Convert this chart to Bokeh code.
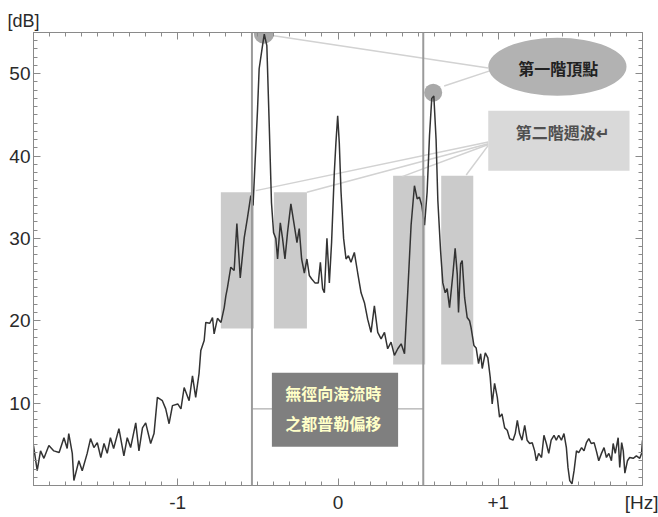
from bokeh.plotting import figure
from bokeh.models import Range1d, FixedTicker, LinearAxis, Span
from bokeh.core.properties import value
from bokeh.embed import file_html
from bokeh.resources import INLINE

# Doppler spectrum (frequency [Hz], power [dB])
freq = [-1.900, -1.877, -1.856, -1.835, -1.804, -1.773, -1.740, -1.710, -1.690, -1.680,
        -1.658, -1.648, -1.617, -1.596, -1.565, -1.544, -1.523, -1.502, -1.480, -1.460,
        -1.440, -1.420, -1.400, -1.367, -1.336, -1.315, -1.294, -1.262, -1.242, -1.220,
        -1.200, -1.169, -1.148, -1.127, -1.096, -1.075, -1.054, -1.033, -1.000, -0.980,
        -0.960, -0.929, -0.908, -0.888, -0.867, -0.856, -0.835, -0.825, -0.800, -0.783,
        -0.773, -0.752, -0.730, -0.710, -0.700, -0.690, -0.669, -0.648, -0.631, -0.610,
        -0.585, -0.565, -0.544, -0.530, -0.502, -0.492, -0.471, -0.460, -0.444, -0.429,
        -0.415, -0.402, -0.388, -0.377, -0.360, -0.346, -0.331, -0.315, -0.294, -0.273,
        -0.256, -0.242, -0.227, -0.210, -0.194, -0.179, -0.165, -0.144, -0.123, -0.110,
        -0.096, -0.085, -0.069, -0.054, -0.040, -0.023, -0.013, -0.002, 0.008, 0.019,
        0.035, 0.050, 0.065, 0.081, 0.102, 0.123, 0.144, 0.165, 0.185, 0.206,
        0.227, 0.248, 0.269, 0.290, 0.310, 0.331, 0.352, 0.373, 0.394, 0.415,
        0.435, 0.456, 0.477, 0.494, 0.508, 0.523, 0.540, 0.556, 0.571, 0.585,
        0.598, 0.612, 0.623, 0.640, 0.654, 0.669, 0.681, 0.696, 0.717, 0.731,
        0.744, 0.752, 0.765, 0.775, 0.790, 0.806, 0.821, 0.830, 0.848, 0.862,
        0.877, 0.890, 0.900, 0.919, 0.935, 0.950, 0.962, 0.977, 0.994, 1.008,
        1.023, 1.040, 1.056, 1.071, 1.092, 1.106, 1.119, 1.133, 1.148, 1.165,
        1.180, 1.196, 1.212, 1.227, 1.238, 1.252, 1.270, 1.285, 1.300, 1.315,
        1.330, 1.348, 1.362, 1.377, 1.394, 1.410, 1.425, 1.435, 1.446, 1.460,
        1.473, 1.488, 1.502, 1.520, 1.535, 1.550, 1.565, 1.580, 1.598, 1.612,
        1.627, 1.644, 1.660, 1.675, 1.690, 1.706, 1.717, 1.730, 1.748, 1.758,
        1.770, 1.780, 1.790, 1.806, 1.820, 1.842, 1.862, 1.883, 1.894, 1.900]
power = [4.85, 1.8, 4.2, 3.3, 4.85, 4.2, 4.0, 5.8, 4.5, 6.3,
         3.9, 0.6, 3.0, 1.8, 3.9, 5.7, 4.6, 5.2, 3.4, 5.1,
         3.9, 5.8, 4.5, 6.9, 3.6, 5.8, 4.6, 7.6, 4.2, 7.0,
         7.6, 5.1, 6.3, 10.7, 10.3, 9.3, 7.5, 9.7, 9.9, 9.3,
         11.9, 10.3, 13.3, 10.7, 13.6, 16.4, 17.6, 19.8, 19.7, 20.4,
         18.4, 20.3, 19.8, 21.6, 23.0, 24.0, 26.5, 26.1, 31.8, 25.2,
         30.1, 32.5, 35.2, 34.0, 45.7, 50.6, 53.4, 54.8, 53.4, 43.7,
         34.3, 30.7, 30.0, 27.5, 31.9, 30.0, 27.5, 30.7, 34.2, 31.6,
         29.5, 31.2, 27.5, 25.8, 27.5, 25.5, 25.1, 24.6, 24.6, 27.1,
         23.9, 23.4, 30.0, 24.6, 29.5, 38.0, 41.6, 44.9, 41.6, 35.6,
         30.0, 27.5, 27.9, 27.1, 28.3, 25.8, 23.4, 22.2, 20.2, 18.6,
         21.8, 18.6, 17.8, 18.6, 16.6, 17.4, 15.8, 16.6, 17.2, 16.0,
         23.4, 31.6, 36.4, 34.8, 35.0, 34.0, 31.6, 35.6, 42.5, 47.0,
         47.3, 42.0, 34.6, 28.5, 24.6, 23.4, 23.9, 21.6, 25.7, 28.8,
         25.7, 21.0, 26.9, 27.3, 22.8, 20.4, 20.0, 19.2, 17.0, 16.7,
         14.8, 16.0, 14.2, 16.1, 15.5, 13.1, 9.9, 12.4, 10.7, 8.3,
         8.7, 7.0, 6.7, 5.7, 5.5, 6.3, 7.9, 6.3, 5.5, 7.3,
         5.5, 5.1, 5.2, 4.2, 3.0, 3.9, 3.4, 6.1, 5.1, 3.9,
         5.5, 6.1, 5.5, 6.1, 5.5, 6.3, 4.6, 2.2, 0.6, 0.2,
         1.8, 4.2, 4.0, 4.6, 4.2, 5.2, 5.7, 5.1, 5.2, 4.2,
         3.0, 3.9, 4.6, 3.4, 3.9, 3.0, 5.1, 3.9, 5.8, 2.2,
         5.2, 4.2, 1.5, 3.0, 3.4, 3.3, 3.6, 3.3, 3.9, 5.5]

# Bragg lines and Doppler-shift marker
bragg_lines = [-0.537, 0.532]
shift_level = 9.3

# first-order peaks (highlight circles)
peak_x = [-0.4625, 0.594]
peak_y = [54.85, 47.7]
peak_size = [20, 18]

# second-order regions
so_left = [-0.731, -0.400, 0.344, 0.644]
so_right = [-0.525, -0.194, 0.544, 0.844]
so_bottom = [19.05, 19.05, 14.7, 14.7]
so_top = [35.6, 35.6, 37.6, 37.6]

x_ticks = [-1, 0, 1, 1.9]
x_labels = {-1: "-1", 0: "0", 1: "+1", 1.9: "[Hz]"}
y_ticks = [10, 20, 30, 40, 50]
y_unit = "[dB]"

label_first = "第一階頂點"
label_second = "第二階週波↵"
label_shift = ["無徑向海流時", "之都普勒偏移"]

p = figure(width=658, height=515, output_backend="svg", toolbar_location=None,
           x_range=Range1d(-1.9, 1.9), y_range=Range1d(0, 55),
           min_border_left=33, min_border_right=16, min_border_top=32, min_border_bottom=30)
p.xgrid.visible = False
p.ygrid.visible = False
p.outline_line_color = "#8a8a8a"
p.outline_line_width = 1
p.background_fill_color = "white"

p.title.text = y_unit
p.title.align = "left"
p.title.offset = -26
p.title.standoff = 4
p.title.text_font = "Liberation Sans"
p.title.text_font_style = "normal"
p.title.text_font_size = "18px"
p.title.text_color = "#2a2a2a"

axis_col = "#8a8a8a"
minor_x = [round(-1.9 + 0.1 * i, 2) for i in range(39)]
minor_y = list(range(0, 56))

def style_axis(ax, show_labels):
    ax.axis_line_color = axis_col
    ax.major_tick_line_color = axis_col
    ax.minor_tick_line_color = axis_col
    ax.major_tick_in = 7
    ax.major_tick_out = 0
    ax.minor_tick_in = 4
    ax.minor_tick_out = 0
    if show_labels:
        ax.major_label_text_font = "Liberation Sans"
        ax.major_label_text_font_size = "19px"
        ax.major_label_text_color = "#2a2a2a"
    else:
        ax.major_label_text_font_size = "1px"
        ax.major_label_text_alpha = 0
        ax.major_label_standoff = 0

xa = p.xaxis[0]
xa.ticker = FixedTicker(ticks=x_ticks, minor_ticks=minor_x)
xa.major_label_overrides = x_labels
xa.major_label_standoff = 6
style_axis(xa, True)

ya = p.yaxis[0]
ya.ticker = FixedTicker(ticks=y_ticks, minor_ticks=minor_y)
ya.major_label_standoff = 3
style_axis(ya, True)

top_ax = LinearAxis(ticker=FixedTicker(ticks=[-1, 0, 1], minor_ticks=minor_x))
style_axis(top_ax, False)
p.add_layout(top_ax, "above")
right_ax = LinearAxis(ticker=FixedTicker(ticks=y_ticks, minor_ticks=minor_y))
style_axis(right_ax, False)
p.add_layout(right_ax, "right")

# second-order shaded regions
p.quad(left=so_left, right=so_right, bottom=so_bottom, top=so_top,
       fill_color="#cbcbcb", line_color=None)

# Bragg frequency lines
for loc in bragg_lines:
    p.add_layout(Span(location=loc, dimension="height", line_color="#9a9a9a", line_width=2))
p.segment(x0=[bragg_lines[0]], y0=[shift_level], x1=[bragg_lines[1]], y1=[shift_level],
          line_color="#9a9a9a", line_width=1)

# leader lines
p.segment(x0=[0.9375, 0.956], y0=[50.7, 50.4], x1=[-0.40, 0.6625], y1=[54.6, 48.5],
          line_color="#d2d2d2", line_width=1.5)
p.segment(x0=[0.9375] * 4, y0=[41.7, 41.5, 41.4, 41.3],
          x1=[-0.5125, -0.194, 0.40, 0.80], y1=[35.8, 35.6, 37.5, 37.7],
          line_color="#d2d2d2", line_width=1.5)

# peak circles
p.scatter(x=peak_x, y=peak_y, size=peak_size, fill_color="#a8a8a8", line_color=None)

# spectrum
p.line(freq, power, line_color="#333333", line_width=1.5)

# annotation shapes
p.ellipse(x=[1.369], y=[50.85], width=[0.8625], height=[7.04],
          fill_color="#b2b2b2", line_color=None)
p.quad(left=[0.9375], right=[1.819], bottom=[38.2], top=[45.5],
       fill_color="#d9d9d9", line_color=None)
p.quad(left=[-0.4125], right=[0.375], bottom=[4.7], top=[13.7],
       fill_color="#7f7f7f", line_color=None)

cjk = value("Noto Sans CJK TC")
p.text(x=[1.375], y=[50.7], text=[label_first], text_align="center", text_baseline="middle",
       text_font=cjk, text_font_style="bold", text_font_size="16px", text_color="#222222")
p.text(x=[1.40], y=[42.9], text=[label_second], text_align="center", text_baseline="middle",
       text_font=cjk, text_font_style="bold", text_font_size="16px", text_color="#505050")
p.text(x=[-0.03, -0.03], y=[11.2, 7.55], text=label_shift, text_align="center",
       text_baseline="middle", text_font=cjk, text_font_style="bold",
       text_font_size="16px", text_color="#ffffc8")

open("out.html", "w").write(file_html(p, INLINE))
